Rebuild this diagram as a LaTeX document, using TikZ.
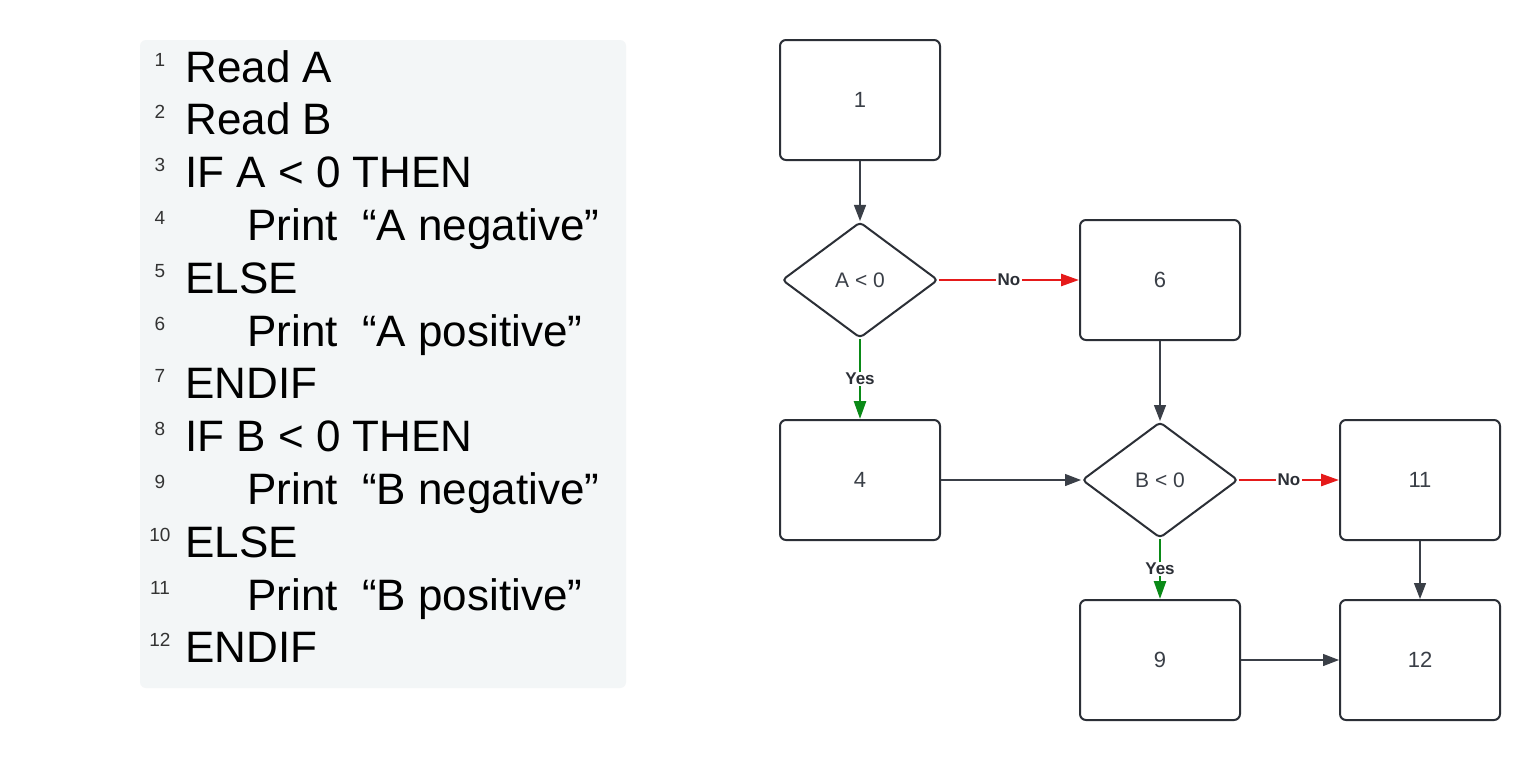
\documentclass[tikz,border=0pt]{standalone}
\usepackage{fontspec}
\setmainfont{Liberation Sans}
\usetikzlibrary{shapes.geometric,arrows.meta}
\definecolor{panel}{HTML}{F3F6F7}
\definecolor{edge}{HTML}{2B2F36}
\definecolor{ink}{HTML}{3A3F47}
\definecolor{lnum}{HTML}{333333}
\definecolor{nored}{HTML}{E51A1A}
\definecolor{yesgreen}{HTML}{0A8A17}
\tikzset{
  box/.style={draw=edge, line width=1pt, rounded corners=3pt, minimum width=80pt, minimum height=60pt, inner sep=0pt, text=ink, font=\fontsize{11}{13}\selectfont},
  dec/.style={draw=edge, line width=1pt, shape=diamond, rounded corners=2pt, aspect=1.345, minimum width=78pt, minimum height=58pt, inner sep=0pt, text=ink, font=\fontsize{10.5}{12}\selectfont},
  flow/.style={draw=ink, line width=0.6pt, -{Triangle[length=8pt,width=6pt]}},
  noflow/.style={draw=nored, line width=1.3pt, -{Triangle[length=9pt,width=6pt]}},
  yesflow/.style={draw=yesgreen, line width=1.3pt, -{Triangle[length=9pt,width=6pt]}},
  elabel/.style={fill=white, inner sep=0.6pt, text=edge, font=\bfseries\fontsize{8.5}{10}\selectfont},
  code/.style={anchor=base west, inner sep=0pt, text=black, font=\fontsize{22}{24}\selectfont},
  num/.style={anchor=base, inner sep=0pt, text=lnum, font=\fontsize{9.5}{11}\selectfont}
}
\begin{document}
\begin{tikzpicture}[x=0.5pt,y=-0.5pt]
\useasboundingbox (0,0) rectangle (1540,760);
\fill[white] (0,0) rectangle (1540,760);
% code panel
\fill[panel, rounded corners=3pt] (140,40) rectangle (626,688);
\foreach \i/\t/\ind in {1/Read A/0, 2/Read B/0, 3/IF A < 0 THEN/0, 4/Print\ \ “A negative”/1, 5/ELSE/0, 6/Print\ \ “A positive”/1, 7/ENDIF/0, 8/IF B < 0 THEN/0, 9/Print\ \ “B negative”/1, 10/ELSE/0, 11/Print\ \ “B positive”/1, 12/ENDIF/0}{
  \pgfmathsetmacro{\yb}{82+(\i-1)*52.8}
  \pgfmathsetmacro{\xt}{185+\ind*62}
  \node[num] (n\i) at (160,\yb-16) {\i};
  \node[code] (c\i) at (\xt,\yb) {\t};
}
% flowchart
\node[box] (b1) at (860,100) {1};
\node[dec] (dA) at (860,280) {A < 0};
\node[box] (b6) at (1160,280) {6};
\node[box] (b4) at (860,480) {4};
\node[dec] (dB) at (1160,480) {B < 0};
\node[box] (b11) at (1420,480) {11};
\node[box] (b9) at (1160,660) {9};
\node[box] (b12) at (1420,660) {12};
\draw[flow] (b1) -- (dA);
\draw[noflow] (dA.east) -- node[elabel] {No} (b6.west);
\draw[yesflow] (dA.south) -- node[elabel] {Yes} (b4.north);
\draw[flow] (b6) -- (dB);
\draw[flow] (b4.east) -- (dB.west);
\draw[noflow] (dB.east) -- node[elabel] {No} (b11.west);
\draw[yesflow] (dB.south) -- node[elabel] {Yes} (b9.north);
\draw[flow] (b11) -- (b12);
\draw[flow] (b9) -- (b12);
\end{tikzpicture}
\end{document}
